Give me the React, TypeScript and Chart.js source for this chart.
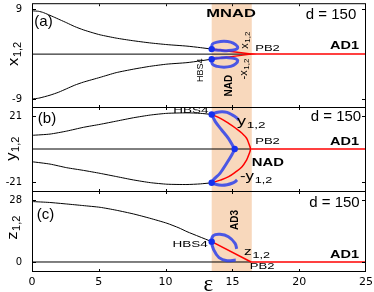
import React, { useEffect, useRef } from 'react';
import { Chart, registerables } from 'chart.js';

Chart.register(...registerables);

// ---------- data ----------
const xTickValues = [0, 5, 10, 15, 20, 25];
const innerXTicks = [5, 10, 15, 20];
const shadeRange = [13.45, 16.45];

// panel (a)
const yTicksA = [-9, 9];
const xUpA = [0, 0.5, 0.85, 1.6, 2.1, 2.6, 3.2, 3.84, 4.5, 5.1, 6.3, 7.5, 8.8, 10.1, 11.6, 12.6, 13.45];
const yUpA = [8.65, 8.55, 8.3, 7.45, 6.85, 6.25, 5.5, 4.85, 4.3, 3.85, 3.2, 2.7, 2.25, 1.9, 1.6, 1.3, 1.0];
const xLowA = [0, 0.5, 1.35, 2.0, 2.6, 3.2, 3.84, 5.1, 6.3, 7.6, 8.8, 10.1, 11.6, 12.6, 13.45];
const yLowA = [-8.95, -8.8, -8.2, -7.6, -6.9, -6.2, -5.6, -4.64, -3.7, -3.0, -2.45, -2.0, -1.7, -1.35, -1.0];
const xRedA = [13.45, 16.4, 13.45];
const yRedA = [1.0, 0, -1.0];
const xLoopUpA = [13.45, 13.5, 13.87, 14.37, 14.87, 15.24, 15.4, 15.2, 14.7, 14.1, 13.6];
const yLoopUpA = [1.0, 2.0, 2.4, 2.55, 2.4, 1.9, 1.3, 0.9, 0.7, 0.75, 0.9];
const xLoopLowA = [13.45, 13.5, 13.87, 14.37, 14.87, 15.24, 15.4, 15.2, 14.7, 14.1, 13.6];
const yLoopLowA = [-1.0, -2.0, -2.45, -2.6, -2.45, -1.95, -1.3, -0.9, -0.7, -0.75, -0.9];
const xDotsA = [13.45, 13.45];
const yDotsA = [1.0, -1.0];

// panel (b)
const yTicksB = [-21, 21];
const xUpB = [0, 1.35, 2.6, 3.85, 5.1, 6.35, 7.6, 8.85, 10.1, 11.6, 12.6, 13.45];
const yUpB = [8.7, 9.5, 11.4, 13.8, 15.7, 17.8, 19.9, 21.6, 22.7, 23.0, 22.7, 22.0];
const xLowB = [0, 1.35, 2.6, 3.85, 5.1, 6.35, 7.6, 8.85, 10.1, 11.6, 12.6, 13.45];
const yLowB = [-8.1, -9.6, -11.9, -13.6, -15.5, -17.6, -19.7, -21.4, -22.4, -22.6, -22.2, -21.5];
const xRedB = [13.45, 14.1, 14.72, 15.25, 15.72, 16.05, 16.22, 16.35, 16.22, 16.05, 15.72, 15.25, 14.72, 14.1, 13.45];
const yRedB = [22.0, 19.5, 16.3, 13.2, 10.0, 7.0, 3.6, 0, -3.8, -7.2, -11.3, -14.6, -17.6, -19.8, -21.5];
const xHookUpB = [13.45, 13.8, 14.22, 14.6, 14.97, 15.3, 15.47];
const yHookUpB = [22.0, 23.2, 23.7, 23.3, 21.8, 20.0, 18.4];
const xVeeB = [13.45, 13.72, 14.2, 14.7, 15.07, 15.17, 14.95, 14.57, 14.07, 13.57, 13.45];
const yVeeB = [22.0, 17.4, 12.1, 6.8, 1.5, 0, -3.8, -9.1, -15.5, -19.7, -21.5];
const xHookLowB = [13.45, 13.8, 14.22, 14.6, 14.97, 15.2, 15.35];
const yHookLowB = [-21.5, -22.6, -23.0, -22.7, -21.8, -20.8, -19.7];
const xDotsB = [13.45, 15.17, 13.45];
const yDotsB = [22.0, 0, -21.5];

// panel (c)
const yTicksC = [0, 28];
const xUpC = [0, 1.3, 2.6, 3.8, 5.1, 6.3, 7.6, 8.8, 10.1, 11.0, 11.6, 12.5, 13.45];
const yUpC = [27.3, 26.9, 26.2, 25.5, 24.7, 23.4, 21.7, 19.8, 17.5, 15.4, 13.7, 11.5, 9.2];
const xRedC = [13.45, 16.4];
const yRedC = [9.2, 0];
const xLoopC = [15.25, 14.6, 14.0, 13.6, 13.44, 13.57, 14.07, 14.7, 15.2, 15.32];
const yLoopC = [0.9, 0.6, 2.0, 5.5, 9.2, 11.9, 12.5, 11.4, 8.4, 5.9];
const xDotsC = [13.45];
const yDotsC = [9.2];

// shared axis lines (y = 0): black up to PB2, red afterwards
const xZeroBlack = [0, 16.4];
const xZeroRed = [16.4, 25];
const yZero = [0, 0];

// ---------- styles ----------
const BLACK = '#000000';
const RED = '#ff0000';
const BLUE = 'rgba(45,65,235,0.85)';
const BLUE_DOT = '#1530ee';
const SHADE = 'rgb(248,216,188)';
const SANS = '"Liberation Sans", Arial, sans-serif';
const TICK_FONT = 'DejaVu Sans';

const pts = (xs: number[], ys: number[]) => xs.map((x, i) => ({ x, y: ys[i] }));
const line = (xs: number[], ys: number[], color: string, width: number, tension = 0.3) => ({
  data: pts(xs, ys),
  showLine: true,
  borderColor: color,
  backgroundColor: color,
  borderWidth: width,
  pointRadius: 0,
  pointHoverRadius: 0,
  fill: false,
  tension,
});
const dots = (xs: number[], ys: number[]) => ({
  data: pts(xs, ys),
  showLine: false,
  pointRadius: 3.2,
  pointBackgroundColor: BLUE_DOT,
  pointBorderWidth: 0,
  pointHoverRadius: 0,
});

type Lbl = {
  t: string;
  sub?: string;
  x: number;
  y: number;
  size: number;
  subSize?: number;
  bold?: boolean;
  sx?: number;
  rot?: boolean;
  align?: 'center' | 'left';
  family?: string;
};

type Spec = {
  top: number;
  bottom: number;
  min: number;
  max: number;
  yTicks: number[];
  showX: boolean;
  datasets: any[];
  labels: Lbl[];
  title: Lbl;
  eps?: boolean;
};

function drawLabel(ctx: CanvasRenderingContext2D, l: Lbl, px: number, py: number) {
  ctx.save();
  ctx.translate(px, py);
  if (l.rot) ctx.rotate(-Math.PI / 2);
  ctx.scale(l.sx || 1, 1);
  ctx.fillStyle = '#000';
  ctx.textBaseline = 'middle';
  ctx.textAlign = 'left';
  const fam = l.family || SANS;
  const mainFont = `${l.bold ? 'bold ' : ''}${l.size}px ${fam}`;
  const subSize = l.subSize || Math.round(l.size * 0.72);
  const subFont = `${subSize}px ${fam}`;
  ctx.font = mainFont;
  const wMain = ctx.measureText(l.t).width;
  let wSub = 0;
  if (l.sub) {
    ctx.font = subFont;
    wSub = ctx.measureText(l.sub).width;
  }
  const total = wMain + wSub;
  const start = l.align === 'left' ? 0 : -total / 2;
  ctx.font = mainFont;
  ctx.fillText(l.t, start, 0);
  if (l.sub) {
    ctx.font = subFont;
    ctx.fillText(l.sub, start + wMain + 0.5, l.size * 0.28);
  }
  ctx.restore();
}

function decorPlugin(spec: Spec) {
  return {
    id: 'panelDecor',
    beforeDatasetsDraw(chart: any) {
      const { ctx, chartArea: a, scales } = chart;
      const x0 = scales.x.getPixelForValue(shadeRange[0]);
      const x1 = scales.x.getPixelForValue(shadeRange[1]);
      ctx.save();
      ctx.fillStyle = SHADE;
      ctx.fillRect(x0, a.top, x1 - x0, a.bottom - a.top);
      ctx.restore();
    },
    afterDatasetsDraw(chart: any) {
      const { ctx, chartArea: a, scales } = chart;
      ctx.save();
      ctx.strokeStyle = BLACK;
      ctx.lineWidth = 1;
      ctx.strokeRect(a.left + 0.5, a.top + 0.5, a.right - a.left - 1, a.bottom - a.top - 1);
      ctx.beginPath();
      innerXTicks.forEach((v) => {
        const px = Math.round(scales.x.getPixelForValue(v)) + 0.5;
        ctx.moveTo(px, a.top + 1);
        ctx.lineTo(px, a.top + 3);
        ctx.moveTo(px, a.bottom - 1);
        ctx.lineTo(px, a.bottom - 3);
      });
      spec.yTicks.forEach((v) => {
        const py = Math.round(scales.y.getPixelForValue(v)) + 0.5;
        ctx.moveTo(a.left + 1, py);
        ctx.lineTo(a.left + 4, py);
        ctx.moveTo(a.right - 1, py);
        ctx.lineTo(a.right - 4, py);
      });
      ctx.stroke();
      ctx.restore();
      spec.labels.forEach((l) => {
        drawLabel(ctx, l, scales.x.getPixelForValue(l.x), scales.y.getPixelForValue(l.y));
      });
      // y-axis title, placed in the left margin
      drawLabel(ctx, spec.title, spec.title.x, scales.y.getPixelForValue(spec.title.y));
      if (spec.eps) {
        ctx.save();
        ctx.fillStyle = '#000';
        ctx.font = '23px "Liberation Serif", serif';
        ctx.textAlign = 'center';
        ctx.textBaseline = 'alphabetic';
        ctx.fillText('\u03b5', scales.x.getPixelForValue(13.2), a.bottom + 19);
        ctx.restore();
      }
    },
  };
}

function makeChart(canvas: HTMLCanvasElement, spec: Spec) {
  return new Chart(canvas, {
    type: 'scatter',
    data: { datasets: spec.datasets },
    options: {
      animation: false,
      responsive: false,
      devicePixelRatio: 1,
      events: [],
      layout: { padding: { left: 0, right: 8, top: spec.top, bottom: 292 - spec.bottom - (spec.showX ? 20 : 0) } },
      plugins: { legend: { display: false }, tooltip: { enabled: false } },
      scales: {
        x: {
          type: 'linear',
          min: 0,
          max: 25,
          display: spec.showX,
          afterBuildTicks: (s: any) => {
            s.ticks = xTickValues.map((v) => ({ value: v }));
          },
          afterFit: (s: any) => {
            s.height = spec.showX ? 20 : 0;
            s.paddingLeft = 0;
            s.paddingRight = 0;
          },
          ticks: {
            font: { family: TICK_FONT, size: 11 },
            color: '#000',
            padding: 4,
            maxRotation: 0,
            autoSkip: false,
          },
          grid: { display: false, drawTicks: false },
          border: { display: false },
        },
        y: {
          type: 'linear',
          min: spec.min,
          max: spec.max,
          afterBuildTicks: (s: any) => {
            s.ticks = spec.yTicks.map((v) => ({ value: v }));
          },
          afterFit: (s: any) => {
            s.width = 32;
            s.paddingTop = 0;
            s.paddingBottom = 0;
          },
          ticks: { font: { family: TICK_FONT, size: 10 }, color: '#000', padding: 10, autoSkip: false },
          grid: { display: false, drawTicks: false },
          border: { display: false },
        },
      },
    } as any,
    plugins: [decorPlugin(spec) as any],
  });
}

const zeroLines = () => [line(xZeroRed, yZero, RED, 1.5, 0), line(xZeroBlack, yZero, BLACK, 1, 0)];

const specA: Spec = {
  top: 1,
  bottom: 108,
  min: -10.76,
  max: 10.17,
  yTicks: yTicksA,
  showX: false,
  datasets: [
    dots(xDotsA, yDotsA),
    line(xLoopUpA, yLoopUpA, BLUE, 3, 0.4),
    line(xLoopLowA, yLoopLowA, BLUE, 3, 0.4),
    line(xRedA, yRedA, RED, 1.5, 0),
    line(xUpA, yUpA, BLACK, 1, 0.2),
    line(xLowA, yLowA, BLACK, 1, 0.2),
    ...zeroLines(),
  ],
  labels: [
    { t: '(a)', x: 0.86, y: 6.46, size: 15 },
    { t: 'MNAD', x: 14.9, y: 7.93, size: 11, bold: true, sx: 1.5 },
    { t: 'd = 150', x: 22.38, y: 7.83, size: 15 },
    { t: 'PB2', x: 17.63, y: 1.17, size: 9, sx: 1.45 },
    { t: 'AD1', x: 23.4, y: 1.57, size: 10, bold: true, sx: 1.45 },
    { t: 'x', sub: '1,2', x: 15.94, y: 2.74, size: 11, subSize: 8, rot: true },
    { t: '-x', sub: '1,2', x: 15.85, y: -3.03, size: 11, subSize: 8, rot: true },
    { t: 'HBS4', x: 12.61, y: -3.23, size: 9, rot: true },
    { t: 'NAD', x: 14.75, y: -6.3, size: 10, bold: true, rot: true },
  ],
  title: { t: 'x', sub: '1,2', x: 14, y: 0, size: 15, subSize: 10, rot: true, sx: 1.1 },
};

const specB: Spec = {
  top: 107,
  bottom: 192,
  min: -27.36,
  max: 26.73,
  yTicks: yTicksB,
  showX: false,
  datasets: [
    dots(xDotsB, yDotsB),
    line(xHookUpB, yHookUpB, BLUE, 3, 0.4),
    line(xVeeB, yVeeB, BLUE, 3, 0.3),
    line(xHookLowB, yHookLowB, BLUE, 3, 0.4),
    line(xRedB, yRedB, RED, 1.5, 0.4),
    line(xUpB, yUpB, BLACK, 1, 0.2),
    line(xLowB, yLowB, BLACK, 1, 0.2),
    ...zeroLines(),
  ],
  labels: [
    { t: '(b)', x: 1.12, y: 19.1, size: 15 },
    { t: 'HBS4', x: 11.9, y: 24.8, size: 9, sx: 1.5 },
    { t: 'y', sub: '1,2', x: 15.34, y: 17.18, size: 12, subSize: 9, sx: 1.5, align: 'left' },
    { t: 'd = 150', x: 22.75, y: 20.36, size: 15 },
    { t: 'PB2', x: 17.63, y: 4.45, size: 9, sx: 1.45 },
    { t: 'AD1', x: 23.4, y: 4.45, size: 10, bold: true, sx: 1.45 },
    { t: 'NAD', x: 17.66, y: -8.91, size: 11, bold: true, sx: 1.35 },
    { t: '-y', sub: '1,2', x: 15.57, y: -17.82, size: 12, subSize: 9, sx: 1.4, align: 'left' },
  ],
  title: { t: 'y', sub: '1,2', x: 12, y: 0, size: 15, subSize: 10, rot: true, sx: 1.1 },
};

const specC: Spec = {
  top: 191,
  bottom: 272,
  min: -4.52,
  max: 32.07,
  yTicks: yTicksC,
  showX: true,
  eps: true,
  datasets: [
    dots(xDotsC, yDotsC),
    line(xLoopC, yLoopC, BLUE, 3, 0.4),
    line(xRedC, yRedC, RED, 1.5, 0),
    line(xUpC, yUpC, BLACK, 1, 0.2),
    ...zeroLines(),
  ],
  labels: [
    { t: '(c)', x: 1.01, y: 21.2, size: 15 },
    { t: 'HBS4', x: 11.83, y: 7.68, size: 9, sx: 1.5 },
    { t: 'AD3', x: 15.19, y: 18.97, size: 10, bold: true, rot: true },
    { t: 'd = 150', x: 22.64, y: 26.65, size: 15 },
    { t: 'z', sub: '1,2', x: 15.87, y: 4.52, size: 11, subSize: 9, sx: 1.4, align: 'left' },
    { t: 'AD1', x: 23.4, y: 3.16, size: 10, bold: true, sx: 1.45 },
    { t: 'PB2', x: 17.22, y: -2.26, size: 9, sx: 1.45 },
  ],
  title: { t: 'z', sub: '1,2', x: 13, y: 15.36, size: 15, subSize: 10, rot: true, sx: 1.1 },
};

export default function App() {
  const refA = useRef<HTMLCanvasElement>(null);
  const refB = useRef<HTMLCanvasElement>(null);
  const refC = useRef<HTMLCanvasElement>(null);

  useEffect(() => {
    const charts: Chart[] = [];
    if (refA.current) charts.push(makeChart(refA.current, specA));
    if (refB.current) charts.push(makeChart(refB.current, specB));
    if (refC.current) charts.push(makeChart(refC.current, specC));
    return () => charts.forEach((c) => c.destroy());
  }, []);

  const cs: React.CSSProperties = { position: 'absolute', left: 0, top: 0, width: 374, height: 292 };
  return (
    <div style={{ position: 'fixed', left: 0, top: 0, width: 374, height: 292, background: '#fff' }}>
      <canvas ref={refA} width={374} height={292} style={cs} />
      <canvas ref={refB} width={374} height={292} style={cs} />
      <canvas ref={refC} width={374} height={292} style={cs} />
    </div>
  );
}
